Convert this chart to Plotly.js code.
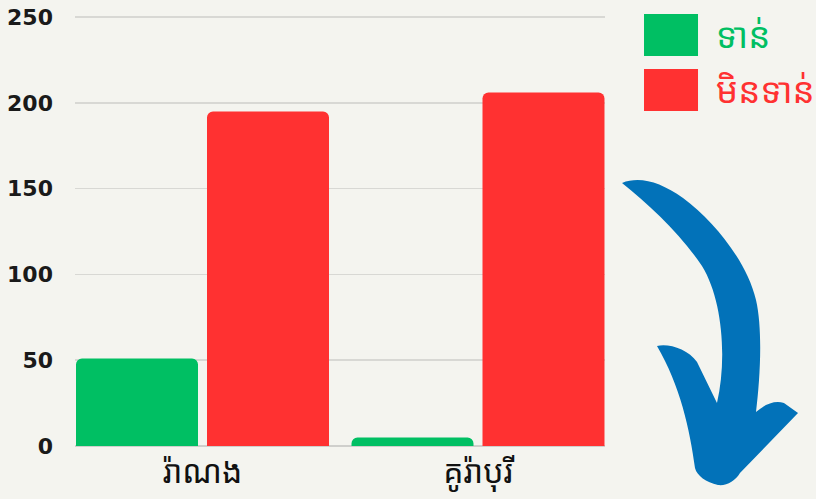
<!DOCTYPE html>
<html><head><meta charset="utf-8">
<script src="https://cdn.plot.ly/plotly-3.0.1.min.js"></script>
<style>html,body{margin:0;padding:0;background:#f4f4ef;}</style>
</head><body>
<div id="chart" style="width:816px;height:499px;"></div>
<script>
const categories = ["រ៉ាណង", "គូរ៉ាបុរី"];
const seriesNames = ["ទាន់", "មិនទាន់"];
const onTime = [51, 5];
const notOnTime = [195, 206];
const yTicks = [0, 50, 100, 150, 200, 250];

const green = "#00bf63", red = "#ff3131";
const khmerFont = "'Noto Sans Khmer','Khmer OS','Khmer OS System','Noto Serif Khmer','DejaVu Sans',sans-serif";

const L = 75, R = 605, T = 15, B = 446;
const yMax = 250 * (B - T) / (446 - 17);
const px = x => ((x - L) / (R - L)).toFixed(4);
const py = y => ((B - y) / (B - T)).toFixed(4);
const P = (x, y) => px(x) + ',' + py(y);

// arrow outline (pixel coords converted to paper fractions)
const arrowPath = [
  'M', P(622,183),
  'C', P(640,176), P(660,182), P(683,198),
  'C', P(715,222), P(747,262), P(756,300),
  'C', P(763,330), P(760,380), P(756,412),
  'C', P(765,404), P(775,400), P(784,403),
  'L', P(798,413),
  'L', P(740,473),
  'C', P(735,481), P(727,486), P(718,485),
  'C', P(706,482), P(697,476), P(695,468),
  'C', P(690,430), P(680,385), P(657,346),
  'C', P(668,343), P(688,349), P(697,362),
  'L', P(717,403),
  'C', P(727,360), P(723,300), P(702,266),
  'C', P(682,236), P(650,205), P(622,183),
  'Z'
].join(' ');

const data = [
  {type:'bar', name:seriesNames[0], x:categories, y:onTime, marker:{color:green, cornerradius:6}, hoverinfo:'x+y'},
  {type:'bar', name:seriesNames[1], x:categories, y:notOnTime, marker:{color:red, cornerradius:6}, hoverinfo:'x+y'}
];

const layout = {
  width:816, height:499,
  margin:{l:L, r:816-R, t:T, b:499-B, pad:0},
  paper_bgcolor:'#f4f4ef', plot_bgcolor:'#f4f4ef',
  barmode:'group', bargap:0.049, bargroupgap:0.0687,
  showlegend:false,
  xaxis:{type:'category', range:[-0.4628, 1.461], showgrid:false, zeroline:false, showline:false, ticks:'',
    ticklabelstandoff:4,
    tickfont:{family:khmerFont, size:32, color:'#111'}, fixedrange:true},
  yaxis:{range:[0,yMax], tickvals:yTicks, showgrid:true, gridcolor:'#d8d8d4', gridwidth:1.5, zeroline:true, zerolinecolor:'#cfcfcc', zerolinewidth:1.5,
    showline:false, ticks:'', ticklabelstandoff:21,
    tickfont:{family:'DejaVu Sans', size:22, color:'#1a1a1a', weight:'bold'}, fixedrange:true},
  shapes:[
    {type:'rect', xref:'paper', yref:'paper', x0:px(644), x1:px(698), y0:py(56), y1:py(14), fillcolor:green, line:{width:0}},
    {type:'rect', xref:'paper', yref:'paper', x0:px(644), x1:px(698), y0:py(111), y1:py(69), fillcolor:red, line:{width:0}},
    {type:'path', xref:'paper', yref:'paper', path:arrowPath, fillcolor:'#0272b9', line:{width:0}}
  ],
  annotations:[
    {xref:'paper', yref:'paper', x:px(714), y:py(35), xanchor:'left', yanchor:'middle', showarrow:false, text:seriesNames[0], font:{family:khmerFont, size:35, color:green}},
    {xref:'paper', yref:'paper', x:px(714), y:py(90), xanchor:'left', yanchor:'middle', showarrow:false, text:seriesNames[1], font:{family:khmerFont, size:35, color:red}}
  ]
};
Plotly.newPlot('chart', data, layout, {displayModeBar:false, staticPlot:true});
</script>
</body></html>
